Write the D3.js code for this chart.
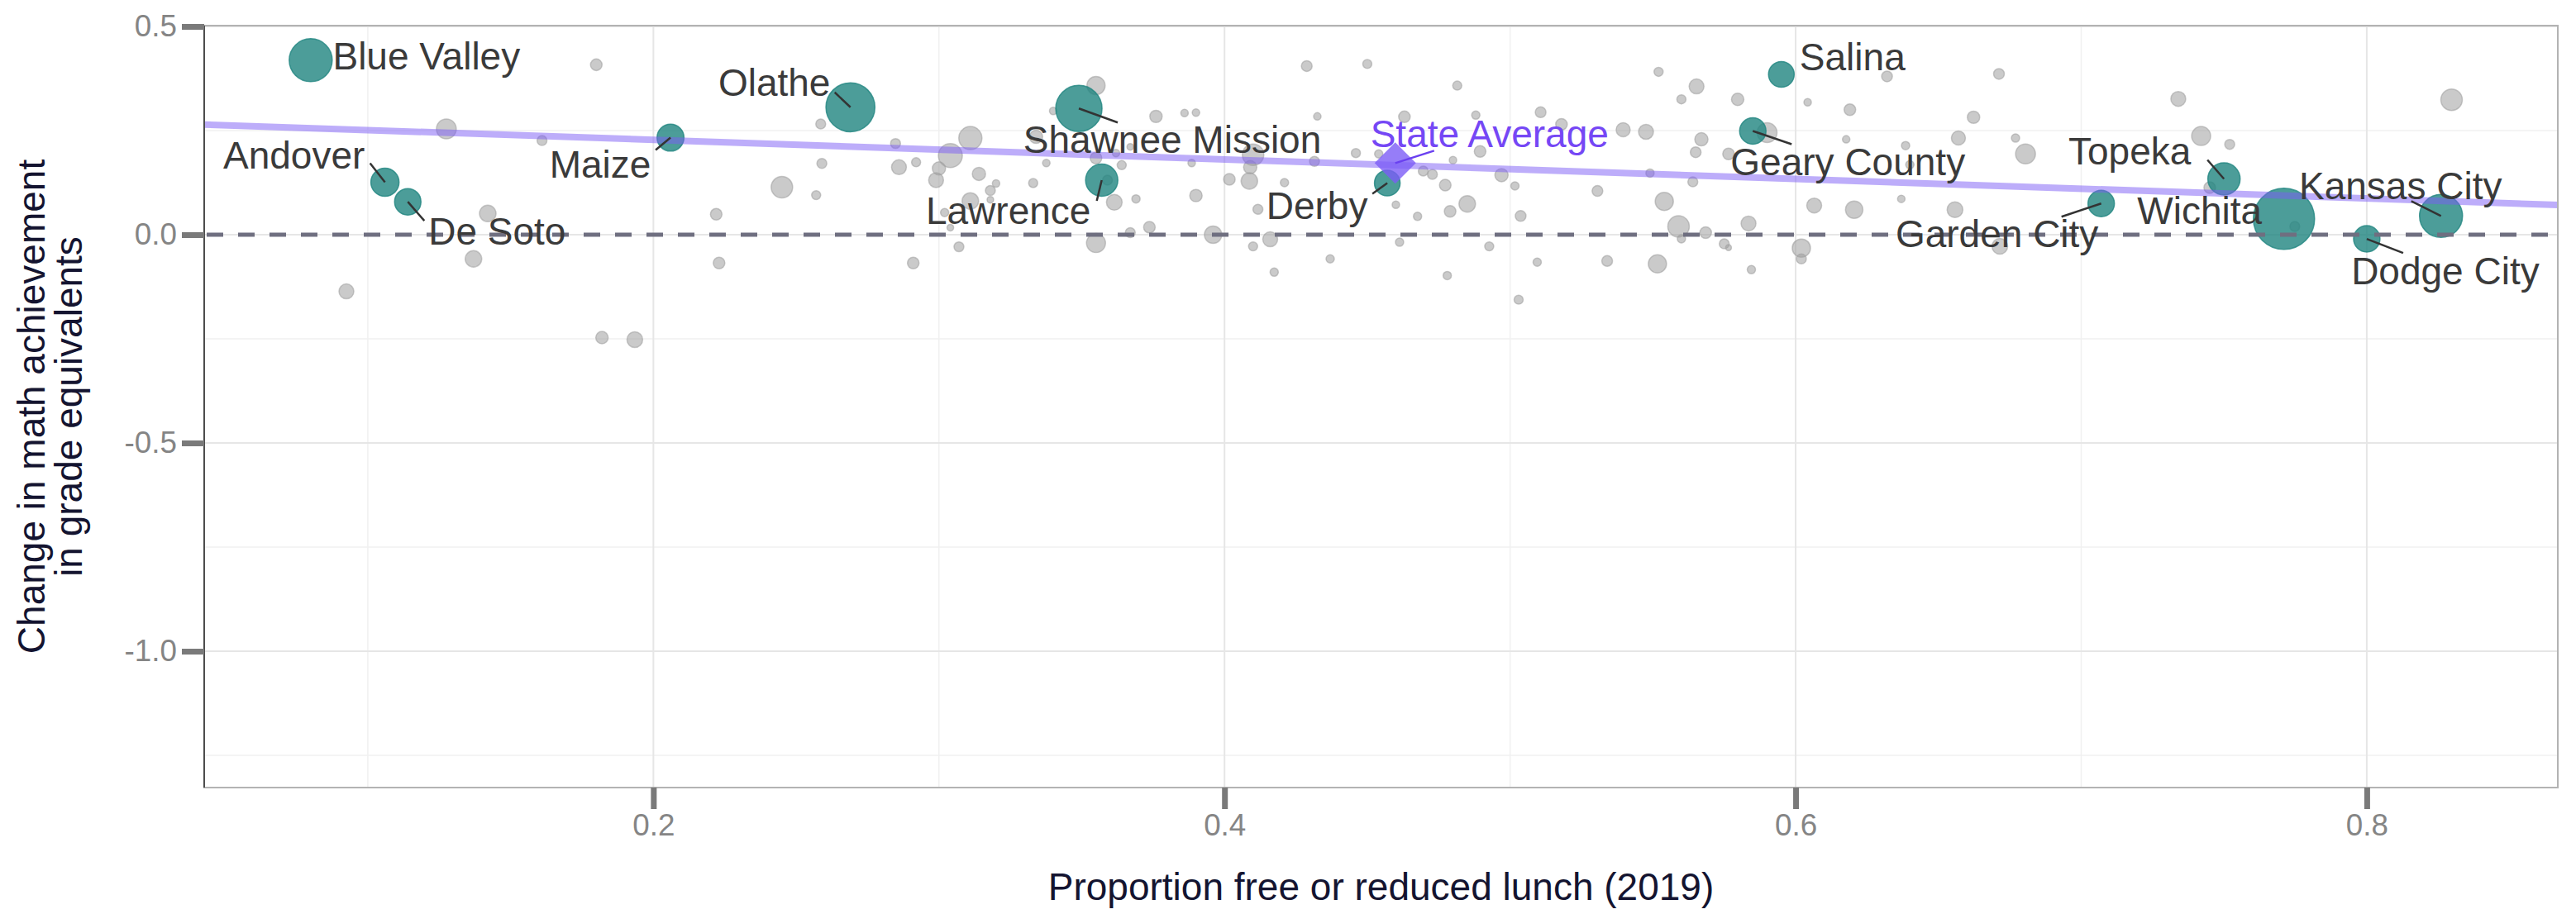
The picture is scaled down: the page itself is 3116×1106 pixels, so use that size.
<!DOCTYPE html>
<html>
<head>
<meta charset="utf-8">
<title>Change in math achievement vs. free or reduced lunch</title>
<style type="text/css">
    body{
        margin: 0;
        background-color: #fff;
    }
    svg{
        display: block;
        font-family: "Liberation Sans", Arial, sans-serif;
    }
    .axis path{
        display: none;
    }
    .axis line{
        stroke: #7a7a7a;
        stroke-width: 7px;
    }
    .axis text{
        fill: #858585;
        font-size: 36.8px;
        font-family: "Liberation Sans", Arial, sans-serif;
    }
    .label{
        fill: #3a3a3a;
        font-size: 46px;
    }
    .title{
        fill: #141430;
        font-size: 46px;
    }
</style>
<script type="text/javascript" src="https://cdn.jsdelivr.net/npm/d3@7"></script>
</head>
<body>

<div id="chart"></div>

<script type="text/javascript">
// highlighted districts
var districtNames = ['Blue Valley', 'Andover', 'De Soto', 'Maize', 'Olathe', 'Shawnee Mission', 'Lawrence',
    'Derby', 'Salina', 'Geary County', 'Garden City', 'Topeka', 'Wichita', 'Kansas City', 'Dodge City'];
var districtFrl = [0.080, 0.106, 0.114, 0.206, 0.269, 0.349, 0.357, 0.457, 0.595, 0.585, 0.707, 0.750, 0.771, 0.826, 0.800];
var districtChange = [0.419, 0.126, 0.079, 0.233, 0.306, 0.303, 0.131, 0.124, 0.385, 0.249, 0.075, 0.134, 0.038, 0.045, -0.010];
var districtEnroll = [24.7, 10.6, 9.3, 9.7, 32.0, 28.6, 13.9, 8.8, 8.8, 9.3, 9.3, 13.9, 50.0, 24.7, 9.3];   // thousands

// all other districts
var otherFrl = [0.0925, 0.1275, 0.137, 0.142, 0.161, 0.180, 0.182, 0.1935, 0.222, 0.223, 0.245, 0.2586, 0.259, 0.257,
    0.2848, 0.286, 0.292, 0.291, 0.311, 0.304, 0.300, 0.299, 0.314, 0.320, 0.318, 0.318, 0.311, 0.302, 0.304, 0.307,
    0.333, 0.3376, 0.355, 0.340, 0.334, 0.355, 0.362, 0.367, 0.364, 0.376, 0.386, 0.390, 0.3885, 0.359, 0.3614, 0.369,
    0.390, 0.3737, 0.367, 0.355, 0.396, 0.4017, 0.4087, 0.409, 0.410, 0.4117, 0.416, 0.410, 0.4174, 0.421, 0.4288,
    0.4325, 0.4315, 0.437, 0.450, 0.446, 0.4815, 0.463, 0.488, 0.5107, 0.518, 0.5396, 0.5476, 0.552, 0.560, 0.454,
    0.460, 0.4676, 0.4613, 0.4696, 0.4728, 0.480, 0.4773, 0.4895, 0.485, 0.479, 0.497, 0.5017, 0.5037, 0.4927, 0.5095,
    0.534, 0.5516, 0.549, 0.5306, 0.554, 0.559, 0.560, 0.478, 0.503, 0.5653, 0.5797, 0.632, 0.6712, 0.6042, 0.619,
    0.6623, 0.567, 0.565, 0.590, 0.5765, 0.6177, 0.6385, 0.657, 0.677, 0.6805, 0.640, 0.564, 0.5685, 0.5835, 0.575,
    0.5765, 0.5845, 0.602, 0.602, 0.6065, 0.6205, 0.637, 0.6558, 0.6715, 0.734, 0.8297, 0.742, 0.752, 0.745, 0.7748];
var otherChange = [-0.136, 0.254, -0.058, 0.051, 0.226, 0.408, -0.247, -0.252, 0.049, -0.068, 0.114, 0.266, 0.171, 0.095,
    0.219, 0.162, 0.174, -0.068, 0.232, 0.190, 0.159, 0.131, 0.146, 0.123, 0.106, 0.084, 0.081, 0.053, 0.017, -0.029,
    0.124, 0.172, 0.358, 0.297, 0.235, 0.184, 0.196, 0.211, 0.167, 0.284, 0.292, 0.293, 0.172, 0.131, 0.078, 0.086,
    0.094, 0.018, 0.005, -0.020, 0.000, 0.133, 0.129, 0.162, 0.192, 0.061, -0.011, -0.028, -0.090, 0.125, 0.405,
    0.284, 0.176, -0.058, 0.410, 0.196, 0.358, 0.283, 0.287, 0.294, 0.265, 0.252, 0.247, 0.391, 0.325, 0.194,
    0.072, 0.044, -0.018, 0.153, 0.145, 0.179, 0.119, 0.200, 0.074, 0.056, 0.143, 0.117, 0.045, -0.028, -0.066,
    -0.063, -0.070, 0.148, 0.105, 0.080, 0.020, -0.010, -0.098, -0.156, 0.356, 0.325, 0.380, 0.386, 0.318, 0.300,
    0.282, 0.229, 0.198, 0.245, 0.194, 0.229, 0.214, 0.232, 0.232, 0.194, 0.168, 0.127, 0.005, 0.027, -0.022,
    -0.031, -0.084, -0.032, -0.058, 0.070, 0.060, 0.086, 0.060, -0.028, 0.326, 0.324, 0.237, 0.217, 0.113, 0.020];
var otherEnroll = [2.96, 5.26, 3.65, 3.65, 1.31, 1.79, 2.05, 3.30, 1.79, 1.79, 6.17, 1.31, 1.31, 1.10,
    1.31, 2.96, 1.10, 1.79, 7.16, 7.68, 2.34, 2.96, 2.34, 0.74, 1.31, 0.58, 3.65, 0.91, 0.58, 1.31,
    1.10, 0.74, 4.42, 0.74, 2.34, 1.79, 0.74, 0.58, 1.10, 2.05, 0.74, 0.74, 0.74, 1.31, 3.30, 0.91,
    2.05, 1.79, 1.31, 4.83, 4.03, 1.79, 3.65, 2.34, 6.17, 1.31, 2.96, 1.10, 0.91, 0.91, 1.54,
    0.74, 1.31, 0.91, 1.10, 1.10, 1.10, 1.79, 0.91, 1.54, 1.79, 2.64, 2.96, 1.10, 1.10, 0.91,
    0.74, 0.91, 0.91, 1.31, 1.31, 0.74, 1.79, 1.79, 3.65, 1.79, 2.34, 0.91, 1.54, 1.10, 0.91,
    1.54, 4.42, 0.91, 1.54, 4.42, 6.17, 0.91, 0.91, 1.10, 2.96, 2.05, 1.54, 1.54, 0.74, 1.79,
    2.05, 2.34, 1.54, 5.26, 1.79, 0.74, 0.91, 2.64, 0.91, 5.26, 0.91, 1.31, 1.79, 2.96, 1.31,
    0.45, 0.91, 4.42, 1.31, 2.96, 4.03, 0.74, 3.30, 3.30, 2.96, 6.17, 4.83, 1.31, 1.79, 1.31];

// state average and fitted line (read at the panel edges)
var stateFrl = 0.4598, stateChange = 0.172;
var trendFrl = [0.0427, 0.8669];
var trendChange = [0.2645, 0.0714];

var xTicks = [0.2, 0.4, 0.6, 0.8];
var xMinor = [0.1, 0.3, 0.5, 0.7];
var yTicks = [-1.0, -0.5, 0.0, 0.5];
var yMinor = [-1.25, -0.75, -0.25, 0.25];

// label placement (pixel offsets from the point: label centre, segment end)
var labelLayout = {
    'Blue Valley': [140, -5, null],
    'Andover': [-110, -33, [-18, -23]],
    'De Soto': [108, 35, [20, 23]],
    'Maize': [-85, 32, [-18, 15]],
    'Olathe': [-92, -30, [-19, -18]],
    'Shawnee Mission': [113, 37, [47, 17]],
    'Lawrence': [-113, 36, [-6, 25]],
    'Derby': [-85, 27, [-18, 13]],
    'Salina': [86, -22, null],
    'Geary County': [115, 37, [47, 16]],
    'Garden City': [-126, 36, [-48, 16]],
    'Topeka': [-114, -34, [-20, -23]],
    'Wichita': [-102, -10, null],
    'Kansas City': [-49, -37, [-36, -18]],
    'Dodge City': [95, 38, [44, 17]],
    'State Average': [114, -36, [47, -15]]
};

var width = 3116, height = 1106;
var margin = {top: 31, right: 22, bottom: 153, left: 247};

var svg = d3.select('#chart')
    .append('svg')
    .attr('width', width)
    .attr('height', height);

var xScale = d3.scaleLinear()
    .domain([0.0427, 0.8669])
    .range([margin.left, width - margin.right]);

var yScale = d3.scaleLinear()
    .domain([-1.3274, 0.502])
    .range([height - margin.bottom, margin.top]);

var rScale = d3.scaleSqrt()
    .domain([0, 50])
    .range([0, 37]);

var fmt = function(d){ return d3.format('.1f')(d).replace('\u2212', '-'); };

// grid
var grid = svg.append('g').attr('class', 'grid');
grid.selectAll('.vminor').data(xMinor).enter().append('line')
    .attr('x1', function(d){ return xScale(d); }).attr('x2', function(d){ return xScale(d); })
    .attr('y1', margin.top).attr('y2', height - margin.bottom)
    .attr('stroke', '#f0f0f0').attr('stroke-width', 1.5);
grid.selectAll('.hminor').data(yMinor).enter().append('line')
    .attr('x1', margin.left).attr('x2', width - margin.right)
    .attr('y1', function(d){ return yScale(d); }).attr('y2', function(d){ return yScale(d); })
    .attr('stroke', '#f0f0f0').attr('stroke-width', 1.5);
grid.selectAll('.vmajor').data(xTicks).enter().append('line')
    .attr('x1', function(d){ return xScale(d); }).attr('x2', function(d){ return xScale(d); })
    .attr('y1', margin.top).attr('y2', height - margin.bottom)
    .attr('stroke', '#e6e6e6').attr('stroke-width', 2);
grid.selectAll('.hmajor').data(yTicks).enter().append('line')
    .attr('x1', margin.left).attr('x2', width - margin.right)
    .attr('y1', function(d){ return yScale(d); }).attr('y2', function(d){ return yScale(d); })
    .attr('stroke', '#e6e6e6').attr('stroke-width', 2);

// other districts
var others = otherFrl.map(function(d, i){
    return {frl: d, change: otherChange[i], enroll: otherEnroll[i]};
}).sort(function(a, b){ return b.enroll - a.enroll; });

svg.append('g').selectAll('circle')
    .data(others)
    .enter()
    .append('circle')
    .attr('cx', function(d){ return xScale(d.frl); })
    .attr('cy', function(d){ return yScale(d.change); })
    .attr('r', function(d){ return rScale(d.enroll); })
    .attr('fill', '#9e9e9e')
    .attr('fill-opacity', 0.55)
    .attr('stroke', '#9e9e9e')
    .attr('stroke-opacity', 0.55)
    .attr('stroke-width', 1.5);

// highlighted districts
var districts = districtNames.map(function(d, i){
    return {name: d, frl: districtFrl[i], change: districtChange[i], enroll: districtEnroll[i]};
});

svg.append('g').selectAll('circle')
    .data(districts)
    .enter()
    .append('circle')
    .attr('cx', function(d){ return xScale(d.frl); })
    .attr('cy', function(d){ return yScale(d.change); })
    .attr('r', function(d){ return rScale(d.enroll); })
    .attr('fill', '#1f8580')
    .attr('fill-opacity', 0.8)
    .attr('stroke', '#1f8580')
    .attr('stroke-opacity', 0.8)
    .attr('stroke-width', 1.5);

// zero reference
svg.append('line')
    .attr('x1', margin.left).attr('x2', width - margin.right)
    .attr('y1', yScale(0)).attr('y2', yScale(0))
    .attr('stroke', '#6f6f80')
    .attr('stroke-width', 5)
    .attr('stroke-dasharray', '20,18')
    .attr('stroke-dashoffset', -3);

// fitted line
var line = d3.line()
    .x(function(d){ return xScale(d[0]); })
    .y(function(d){ return yScale(d[1]); });
svg.append('path')
    .datum(d3.zip(trendFrl, trendChange))
    .attr('d', line)
    .attr('fill', 'none')
    .attr('stroke', '#7c5cf6')
    .attr('stroke-opacity', 0.5)
    .attr('stroke-width', 8);

// state average diamond
svg.append('path')
    .attr('d', d3.symbol(d3.symbolSquare, 1250)())
    .attr('transform', 'translate(' + xScale(stateFrl) + ',' + yScale(stateChange) + ') rotate(45)')
    .attr('fill', '#7c5cf6')
    .attr('fill-opacity', 0.8);

// labels and leader segments
var labelled = districts.concat([{name: 'State Average', frl: stateFrl, change: stateChange}]);

svg.append('g').selectAll('line')
    .data(labelled.filter(function(d){ return labelLayout[d.name][2]; }))
    .enter()
    .append('line')
    .attr('x1', function(d){ return xScale(d.frl); })
    .attr('y1', function(d){ return yScale(d.change); })
    .attr('x2', function(d){ return xScale(d.frl) + labelLayout[d.name][2][0]; })
    .attr('y2', function(d){ return yScale(d.change) + labelLayout[d.name][2][1]; })
    .attr('stroke', function(d){ return d.name === 'State Average' ? '#6a40f0' : '#333'; })
    .attr('stroke-width', 2.5);

svg.append('g').selectAll('text')
    .data(labelled)
    .enter()
    .append('text')
    .attr('class', 'label')
    .attr('x', function(d){ return xScale(d.frl) + labelLayout[d.name][0]; })
    .attr('y', function(d){ return yScale(d.change) + labelLayout[d.name][1]; })
    .attr('dy', '0.36em')
    .attr('text-anchor', 'middle')
    .style('fill', function(d){ return d.name === 'State Average' ? '#7547f5' : null; })
    .text(function(d){ return d.name; });

// panel border and left axis line
svg.append('rect')
    .attr('x', margin.left).attr('y', margin.top)
    .attr('width', width - margin.left - margin.right)
    .attr('height', height - margin.top - margin.bottom)
    .attr('fill', 'none')
    .attr('stroke', '#b3b3b3')
    .attr('stroke-width', 2);
svg.append('line')
    .attr('x1', margin.left).attr('x2', margin.left)
    .attr('y1', margin.top).attr('y2', height - margin.bottom)
    .attr('stroke', '#4d4d4d')
    .attr('stroke-width', 2);

// axes
var xAxis = d3.axisBottom(xScale).tickValues(xTicks).tickSize(26).tickPadding(6).tickFormat(fmt);
var yAxis = d3.axisLeft(yScale).tickValues(yTicks).tickSize(27).tickPadding(6).tickFormat(fmt);

svg.append('g')
    .attr('class', 'axis')
    .attr('transform', 'translate(0,' + (height - margin.bottom) + ')')
    .call(xAxis);
svg.append('g')
    .attr('class', 'axis')
    .attr('transform', 'translate(' + margin.left + ',0)')
    .call(yAxis);

// axis titles
svg.append('text')
    .attr('class', 'title')
    .attr('x', (margin.left + width - margin.right) / 2)
    .attr('y', 1089)
    .attr('text-anchor', 'middle')
    .text('Proportion free or reduced lunch (2019)');

var yMid = (margin.top + height - margin.bottom) / 2;
var yTitle = svg.append('text')
    .attr('class', 'title')
    .attr('transform', 'rotate(-90)')
    .attr('text-anchor', 'middle');
yTitle.append('tspan').attr('x', -yMid).attr('y', 54).text('Change in math achievement');
yTitle.append('tspan').attr('x', -yMid).attr('y', 99).text('in grade equivalents');
</script>

</body>
</html>
